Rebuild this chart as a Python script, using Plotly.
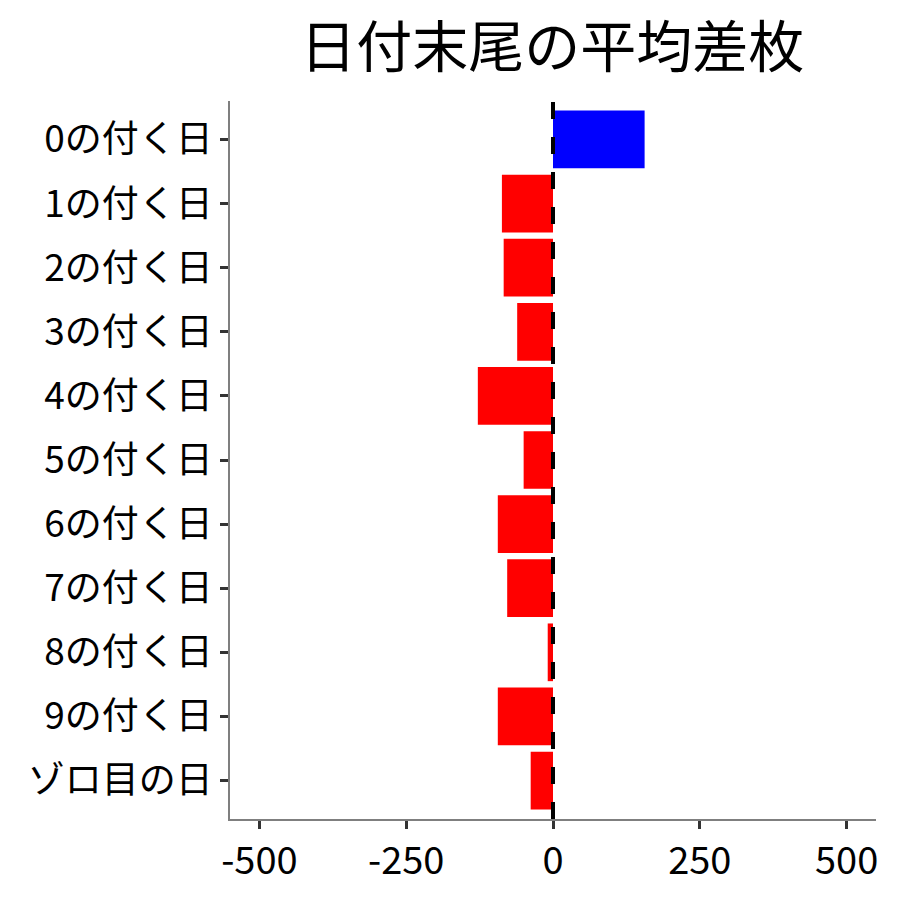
import plotly.graph_objects as go

categories = ["0の付く日", "1の付く日", "2の付く日", "3の付く日", "4の付く日",
              "5の付く日", "6の付く日", "7の付く日", "8の付く日", "9の付く日", "ゾロ目の日"]
values = [156, -87, -84, -61, -128, -50, -94, -78, -9, -94, -38]
colors = ["blue" if v > 0 else "red" for v in values]
x_ticks = [-500, -250, 0, 250, 500]
title = "日付末尾の平均差枚"

font = "Noto Sans CJK JP"

fig = go.Figure()
fig.add_trace(go.Bar(
    x=values, y=categories, orientation="h",
    marker=dict(color=colors, line=dict(width=0)),
    width=0.9, showlegend=False,
))
fig.add_shape(type="line", x0=0, x1=0, xref="x", y0=0, y1=1.0, yref="paper",
              line=dict(color="black", width=4, dash="17px,18px"))

fig.update_layout(
    width=900, height=900,
    margin=dict(l=222, r=32, t=93, b=89),
    plot_bgcolor="white", paper_bgcolor="white",
    title=dict(text=title, x=0.6047, xanchor="center", y=0.956, yanchor="middle",
               font=dict(family=font, size=56, color="black")),
    font=dict(family=font, color="black"),
    bargap=0.1,
)
fig.update_xaxes(
    range=[-550, 550], tickvals=x_ticks, ticktext=[str(t) for t in x_ticks],
    showline=True, linecolor="#7f7f7f", linewidth=1.5,
    ticks="outside", ticklen=8, tickwidth=2.5, tickcolor="#333333",
    tickfont=dict(family=font, size=38, color="black"),
    showgrid=False, zeroline=False, automargin=False,
)
fig.update_yaxes(
    categoryorder="array", categoryarray=categories,
    range=[10.6, -0.6],
    showline=True, linecolor="#7f7f7f", linewidth=1.5,
    ticks="outside", ticklen=8, tickwidth=2.5, tickcolor="#333333",
    tickfont=dict(family=font, size=37, color="black"),
    showgrid=False, zeroline=False, automargin=False,
)

fig.write_html("out.html")
